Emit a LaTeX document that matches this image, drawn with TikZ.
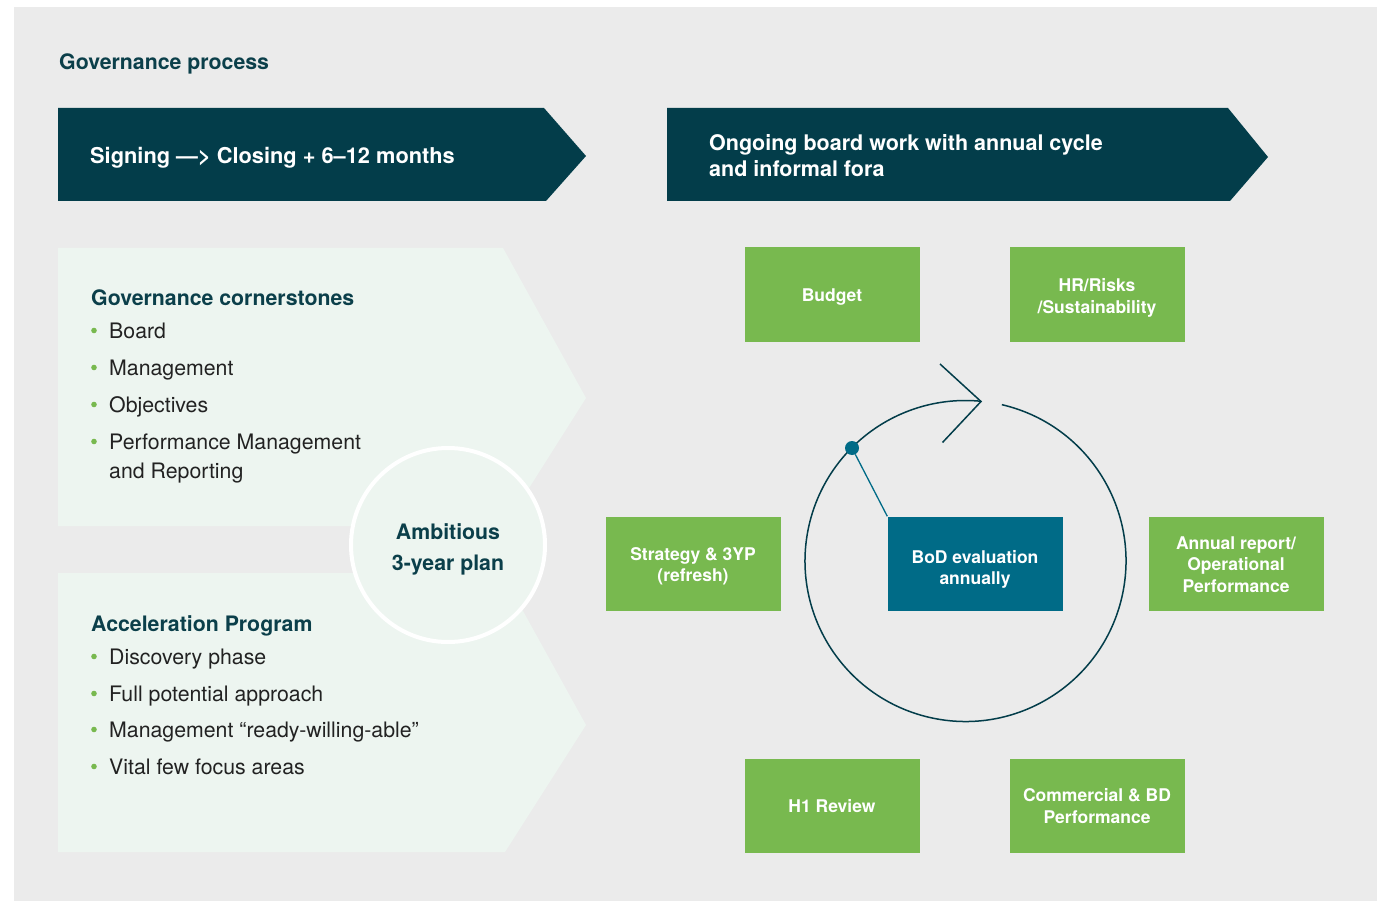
\documentclass[tikz,border=0pt]{standalone}
\usepackage{fontspec}
\setmainfont{TeX Gyre Heros}
\usetikzlibrary{calc}
\definecolor{bggrey}{HTML}{EBEBEB}
\definecolor{darkteal}{HTML}{033D4A}
\definecolor{headteal}{HTML}{0B3F4A}
\definecolor{gboxgreen}{HTML}{78B94F}
\definecolor{bodteal}{HTML}{006B87}
\definecolor{panelgreen}{HTML}{EDF5F0}
\definecolor{bodytext}{HTML}{222222}
\newcommand\boxtext[2][3pt]{\raisebox{-#1}[\height][\depth]{\begin{tabular}{@{}c@{}}#2\end{tabular}}}
\begin{document}
\begin{tikzpicture}[x=1pt,y=-1pt,
  headtext/.style={anchor=base west, text=headteal, font=\fontsize{21.3}{26}\selectfont\bfseries, inner sep=0},
  arrowtext/.style={anchor=base west, text=white, font=\fontsize{21.8}{26}\selectfont\bfseries, inner sep=0, align=left},
  itemtext/.style={anchor=base west, text=bodytext, font=\fontsize{21.3}{29}\selectfont, inner sep=0, align=left},
  bulletdot/.style={circle, fill=gboxgreen, minimum size=5.6, inner sep=0},
  gbox/.style={rectangle, fill=gboxgreen, minimum width=175, minimum height=94, inner sep=0, text=white, font=\fontsize{17.5}{21.5}\selectfont\bfseries},
  bodbox/.style={gbox, fill=bodteal},
  cycleline/.style={draw=darkteal, line width=1.5},
]
\useasboundingbox (0,0) rectangle (1380,901);
\fill[white] (0,0) rectangle (1380,901);
\fill[bggrey] (14,7) rectangle (1377,901);

% title
\node[headtext] (title) at (59,69.5) {Governance process};

% top arrows
\fill[darkteal] (58,108) -- (544,108) -- (586,156) -- (546,201) -- (58,201) -- cycle;
\fill[darkteal] (667,108) -- (1228,108) -- (1268,157) -- (1230,201) -- (667,201) -- cycle;
\node[arrowtext] (signing) at (90,164) {Signing —> Closing + 6–12 months};
\node[arrowtext, font=\fontsize{21.5}{26}\selectfont\bfseries] (ongoing) at (709,176.5) {Ongoing board work with annual cycle\\and informal fora};

% left panels
\fill[panelgreen] (58,248) -- (503,248) -- (586,398) -- (505,526) -- (58,526) -- cycle;
\fill[panelgreen] (58,573) -- (502,573) -- (586,725) -- (505,852) -- (58,852) -- cycle;

% cornerstones
\node[headtext] (corner) at (91,305.5) {Governance cornerstones};
\node[bulletdot] (b1) at (94,330.5) {};
\node[itemtext] (i1) at (109,338.5) {Board};
\node[bulletdot] (b2) at (94,367.5) {};
\node[itemtext] (i2) at (109,375.5) {Management};
\node[bulletdot] (b3) at (94,404.5) {};
\node[itemtext] (i3) at (109,412.5) {Objectives};
\node[bulletdot] (b4) at (94,441.5) {};
\node[itemtext] (i4) at (109,478.5) {Performance Management\\and Reporting};

% acceleration
\node[headtext] (accel) at (91,631.5) {Acceleration Program};
\node[bulletdot] (c1) at (94,656.5) {};
\node[itemtext] (j1) at (109,664.5) {Discovery phase};
\node[bulletdot] (c2) at (94,693.5) {};
\node[itemtext] (j2) at (109,701.5) {Full potential approach};
\node[bulletdot] (c3) at (94,729.5) {};
\node[itemtext] (j3) at (109,737.5) {Management “ready-willing-able”};
\node[bulletdot] (c4) at (94,766.5) {};
\node[itemtext] (j4) at (109,774.5) {Vital few focus areas};

% plan circle
\node[circle, draw=white, line width=4, fill=panelgreen, minimum size=194, inner sep=0,
      text=headteal, font=\fontsize{21.3}{29}\selectfont\bfseries] (plan) at (448,545)
      {\boxtext[4pt]{Ambitious\\[1.5pt]3-year plan}};

% cycle
\coordinate (cc) at (965.5,561);
\draw[cycleline] (cc) ++(-76.9:160.5) arc[start angle=-76.9, end angle=275.5, radius=160.5];
\coordinate (tip) at (981,401.5);
\coordinate (headA) at (940,364);
\coordinate (headB) at (942.5,442.5);
\draw[cycleline] (headA) -- (tip) -- (headB);

% boxes
\node[gbox] (budget) at (832,294.5) {\boxtext{Budget}};
\node[gbox] (hr) at (1097,294.5) {\boxtext[3.5pt]{HR/Risks\\/Sustainability}};
\node[gbox] (strategy) at (693,563.5) {\boxtext{Strategy \& 3YP\\(refresh)}};
\node[bodbox] (bod) at (975,563.5) {\boxtext[6pt]{BoD evaluation\\annually}};
\node[gbox] (annual) at (1236,563.5) {\boxtext{Annual report/\\Operational\\Performance}};
\node[gbox] (h1) at (832,805.5) {\boxtext{H1 Review}};
\node[gbox] (commercial) at (1097,805.5) {\boxtext[2.5pt]{Commercial \& BD\\Performance}};

% dot and connector
\node[circle, fill=bodteal, minimum size=14, inner sep=0] (dot) at (852,448) {};
\draw[bodteal, line width=1.3] (dot) -- (bod.north west);
\end{tikzpicture}
\end{document}
